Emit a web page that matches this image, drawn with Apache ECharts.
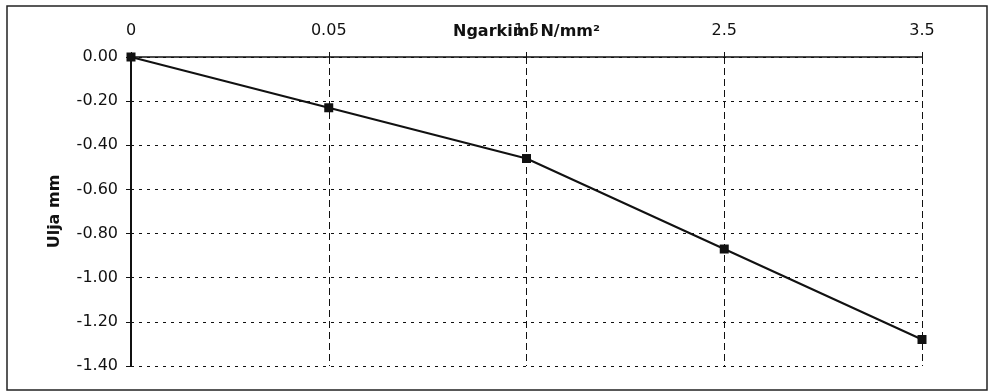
<!DOCTYPE html>
<html>
<head>
<meta charset="utf-8">
<script src="https://cdn.jsdelivr.net/npm/echarts@6/dist/echarts.min.js"></script>
<style>html,body{margin:0;padding:0;background:#fff}#c{width:989px;height:392px}</style>
</head>
<body>
<div id="c"></div>
<script>
const categories = ['0', '0.05', '1.5', '2.5', '3.5'];
const ulja = [0.00, -0.23, -0.46, -0.87, -1.28];
const xName = 'Ngarkimi N/mm²';
const yName = 'Ulja mm';

const chart = echarts.init(document.getElementById('c'), null, {renderer: 'canvas'});
const font = 'DejaVu Sans';
chart.setOption({
  animation: false,
  backgroundColor: '#fff',
  grid: {left: 131, right: 67, top: 57, bottom: 26, containLabel: false},
  graphic: [{
    type: 'rect',
    shape: {x: 7, y: 6, width: 980, height: 384},
    style: {fill: 'none', stroke: '#222', lineWidth: 1.5},
    silent: true
  }],
  xAxis: {
    type: 'category',
    position: 'top',
    data: categories,
    boundaryGap: false,
    name: xName,
    nameLocation: 'middle',
    nameMoveOverlap: false,
    nameGap: 17,
    nameTextStyle: {fontFamily: font, fontSize: 16, fontWeight: 'bold', color: '#111', verticalAlign: 'bottom'},
    axisLine: {lineStyle: {color: '#111', width: 1.5}},
    axisTick: {show: true, inside: false, length: 5, alignWithLabel: true, lineStyle: {color: '#111'}},
    axisLabel: {fontFamily: font, fontSize: 16, color: '#111', margin: 18},
    splitLine: {show: true, lineStyle: {color: '#111', type: [7, 4], width: 1}}
  },
  yAxis: {
    type: 'value',
    min: -1.4,
    max: 0,
    interval: 0.2,
    name: yName,
    nameLocation: 'middle',
    nameRotate: 90,
    nameGap: 68,
    nameTextStyle: {fontFamily: font, fontSize: 16, fontWeight: 'bold', color: '#111'},
    axisLine: {show: true, lineStyle: {color: '#111', width: 2}},
    axisTick: {show: true, inside: false, length: 5, lineStyle: {color: '#111'}},
    axisLabel: {fontFamily: font, fontSize: 16, color: '#111', margin: 13,
      formatter: v => v.toFixed(2)},
    splitLine: {show: true, lineStyle: {color: '#111', type: [3, 5], width: 1}}
  },
  series: [{
    type: 'line',
    data: ulja,
    symbol: 'rect',
    symbolSize: 9,
    lineStyle: {color: '#111', width: 2},
    itemStyle: {color: '#111'},
    z: 5
  }]
});
</script>
</body>
</html>
